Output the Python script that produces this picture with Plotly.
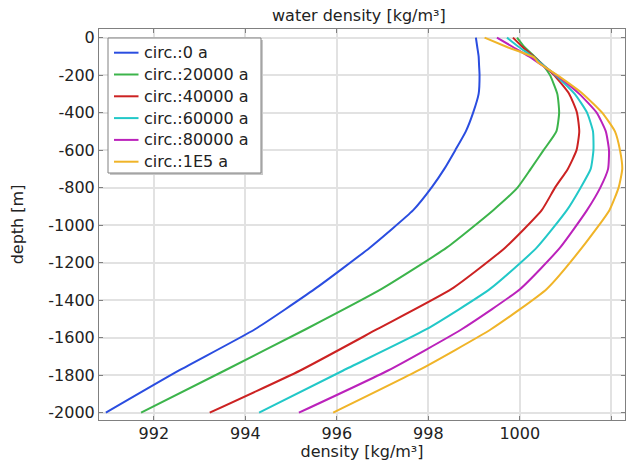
import plotly.graph_objects as go

# depth levels [m] shared by most profiles
depth = [0, -50, -100, -150, -200, -300, -400, -500, -600, -700, -800,
         -920, -1120, -1340, -1555, -1775, -2000]
# the 1E5 a profile carries a small step near the surface
depth_1e5 = [0, -50, -107, -130, -200, -300, -400, -500, -600, -700, -800,
             -920, -1120, -1340, -1555, -1775, -2000]

rho_0 = [999.04, 999.07, 999.10, 999.11, 999.12, 999.10, 998.98, 998.82, 998.59,
         998.35, 998.07, 997.67, 996.72, 995.52, 994.21, 992.55, 990.95]
rho_20000 = [999.94, 1000.10, 1000.32, 1000.52, 1000.66, 1000.82, 1000.86, 1000.80,
             1000.52, 1000.24, 999.95, 999.42, 998.40, 996.98, 995.32, 993.55, 991.72]
rho_40000 = [999.85, 1000.06, 1000.30, 1000.53, 1000.75, 1001.08, 1001.25, 1001.30,
             1001.24, 1001.05, 1000.77, 1000.48, 999.68, 998.51, 996.88, 995.20, 993.22]
rho_60000 = [999.72, 999.98, 1000.27, 1000.53, 1000.78, 1001.20, 1001.47, 1001.60,
             1001.61, 1001.55, 1001.33, 1001.03, 1000.37, 999.35, 997.96, 996.14, 994.30]
rho_80000 = [999.50, 999.85, 1000.20, 1000.50, 1000.80, 1001.30, 1001.68, 1001.88,
             1001.95, 1001.93, 1001.76, 1001.47, 1000.88, 1000.01, 998.73, 997.12, 995.17]
rho_1e5 = [999.23, 999.72, 1000.32, 1000.39, 1000.82, 1001.38, 1001.80, 1002.08,
           1002.19, 1002.24, 1002.16, 1001.96, 1001.36, 1000.59, 999.37, 997.78, 995.92]

names = ["circ.:0 a", "circ.:20000 a", "circ.:40000 a",
         "circ.:60000 a", "circ.:80000 a", "circ.:1E5 a"]
colors = ["#2a4de0", "#3cb44b", "#cc2222", "#22c8c8", "#bb22bb", "#f0b428"]

x_ticks = [992, 994, 996, 998, 1000, 1002]
x_ticktext = ["992", "994", "996", "998", "1000", ""]
y_ticks = [0, -200, -400, -600, -800, -1000, -1200, -1400, -1600, -1800, -2000]
y_ticktext = ["0", "-200", "-400", "-600", "-800", "-1000", "-1200",
              "-1400", "-1600", "-1800", "-2000"]

series = [
    (rho_0, depth), (rho_20000, depth), (rho_40000, depth),
    (rho_60000, depth), (rho_80000, depth), (rho_1e5, depth_1e5),
]

W, H = 626, 461
ML, MR, MT, MB = 99, 1, 29, 41
PW, PH = W - ML - MR, H - MT - MB


def px_x(px):
    """pixel column -> paper x"""
    return (px - ML) / PW


def px_y(py):
    """pixel row -> paper y"""
    return (H - MB - py) / PH


fig = go.Figure()
for (x, y), name, c in zip(series, names, colors):
    fig.add_trace(go.Scatter(x=x, y=y, mode="lines", name=name,
                             line=dict(color=c, width=2, shape="spline",
                                       smoothing=0.5),
                             showlegend=False))

font = dict(family="DejaVu Sans", size=16, color="#222222")

# legend box with a soft drop shadow
box_l, box_r, box_t, box_b = 108, 261, 38, 173
shapes = [
    dict(type="rect", xref="paper", yref="paper",
         x0=px_x(box_l + 2), x1=px_x(box_r + 2), y0=px_y(box_b + 2), y1=px_y(box_t + 2),
         fillcolor="#c8c8c8", line=dict(width=0), layer="above"),
    dict(type="rect", xref="paper", yref="paper",
         x0=px_x(box_l), x1=px_x(box_r), y0=px_y(box_b), y1=px_y(box_t),
         fillcolor="white", line=dict(color="#808080", width=1), layer="above"),
]
annotations = []
row0, row_step = 52.7, 21.8
for i, (name, c) in enumerate(zip(names, colors)):
    yc = row0 + i * row_step
    shapes.append(dict(type="line", xref="paper", yref="paper",
                       x0=px_x(114), x1=px_x(138.5), y0=px_y(yc), y1=px_y(yc),
                       line=dict(color=c, width=2), layer="above"))
    annotations.append(dict(text=name, xref="paper", yref="paper",
                            x=px_x(141.5), y=px_y(yc), xanchor="left",
                            yanchor="middle", showarrow=False, font=font))

fig.update_layout(
    width=W, height=H,
    margin=dict(l=ML, r=MR, t=MT, b=MB),
    paper_bgcolor="white", plot_bgcolor="white",
    font=font,
    title=dict(text="water density [kg/m³]", xref="paper", x=0.494,
               xanchor="center", y=0.967, yanchor="middle", font=font),
    showlegend=False,
    shapes=shapes,
    annotations=annotations,
)

fig.update_xaxes(
    range=[990.8, 1002.3], tickvals=x_ticks, ticktext=x_ticktext,
    showgrid=True, gridcolor="#e2e2e2", gridwidth=2,
    showline=True, linecolor="#808080", linewidth=1, mirror="ticks",
    ticks="inside", ticklen=4, tickcolor="#808080",
    ticklabelstandoff=-1,
    zeroline=False,
    title=dict(text="density [kg/m³]", standoff=4, font=font),
)
fig.update_yaxes(
    range=[-2039, 46], tickvals=y_ticks, ticktext=y_ticktext,
    showgrid=True, gridcolor="#e2e2e2", gridwidth=2,
    showline=True, linecolor="#808080", linewidth=1, mirror="ticks",
    ticks="inside", ticklen=4, tickcolor="#808080",
    zeroline=False,
    title=dict(text="depth [m]", standoff=20, font=font),
)

fig.write_html("out.html")
